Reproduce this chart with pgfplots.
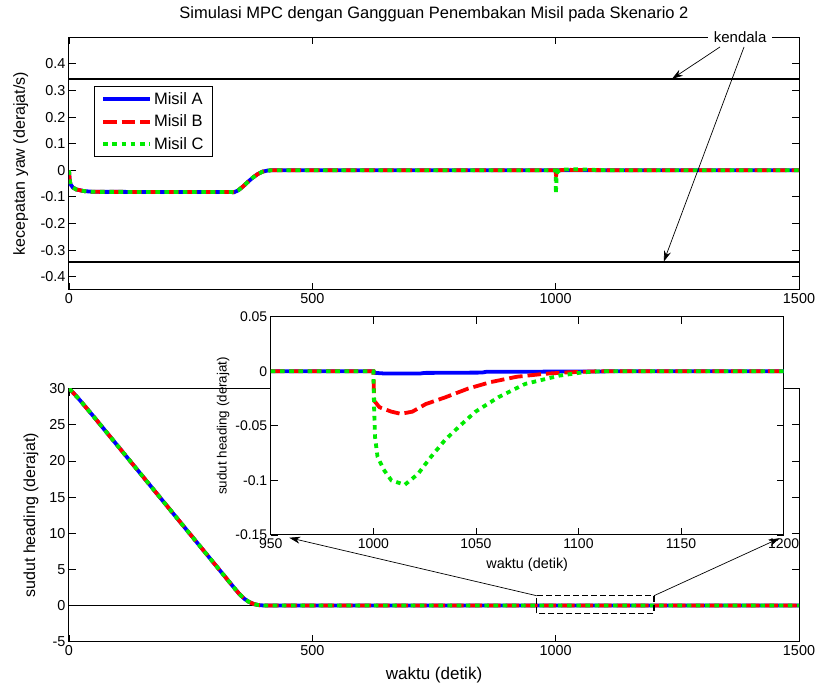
\documentclass[border=0pt]{standalone}
\usepackage{fontspec}
\setmainfont{Liberation Sans}
\usepackage{pgfplots}
\pgfplotsset{compat=1.18}
\usetikzlibrary{arrows.meta}

\definecolor{mblue}{RGB}{0,0,255}
\definecolor{mred}{RGB}{255,0,0}
\definecolor{mgreen}{RGB}{0,235,0}

\pgfplotsset{
  matlab/.style={
    scale only axis, anchor=south west,
    tick align=inside, major tick length=7pt,
    every tick/.style={black, line width=0.8pt},
    axis line style={line width=1pt},
    tick label style={font=\fontsize{14.4}{16}\selectfont},
    /pgf/number format/assume math mode=true,
  },
  misA/.style={mblue, line width=3.8pt},
  misB/.style={mred, line width=3.8pt, dash pattern=on 13.5pt off 5pt},
  misC/.style={mgreen, line width=3.8pt, dash pattern=on 4.6pt off 4.6pt},
  legend image code/.code={\draw[#1] (0pt,0pt) -- (47pt,0pt);},
}

\begin{document}
\begin{tikzpicture}
\path[use as bounding box] (0pt,0pt) rectangle (816pt,684pt);

% ---------------- yaw rate ----------------
\begin{axis}[matlab,
  at={(69pt,394pt)}, width=730pt, height=252.7pt,
  xmin=0, xmax=1500, ymin=-0.45, ymax=0.5,
  xtick={0,500,1000,1500}, xticklabels={0,500,1000,1500},
  ytick={-0.4,-0.3,-0.2,-0.1,0,0.1,0.2,0.3,0.4},
  yticklabels={-0.4,-0.3,-0.2,-0.1,0,0.1,0.2,0.3,0.4},
  ylabel={kecepatan yaw (derajat/s)},
  ylabel style={at={(axis description cs:-0.066,0.5)}, anchor=center, font=\fontsize{16}{18}\selectfont},
  title={Simulasi MPC dengan Gangguan Penembakan Misil pada Skenario 2},
  title style={at={(axis description cs:0.5,1.068)}, anchor=center, font=\fontsize{16.5}{19}\selectfont},
  legend style={at={(axis description cs:0.034,0.807)}, anchor=north west,
    draw=black, line width=0.8pt, font=\fontsize{16.5}{18}\selectfont,
    row sep=5pt, inner xsep=7pt, inner ysep=4pt, cells={anchor=west}},
]
\addplot[misA] coordinates {(0,0) (1,-0.03) (3,-0.052) (8,-0.065) (15,-0.072) (30,-0.078) (50,-0.081) (340,-0.082) (348,-0.075) (358,-0.06) (368,-0.043) (378,-0.027) (388,-0.014) (398,-0.005) (408,-0.001) (415,0) (1000,0) (1000.3,-0.002) (1003,0) (1500,0)};
\addplot[misB] coordinates {(0,0) (1,-0.03) (3,-0.052) (8,-0.065) (15,-0.072) (30,-0.078) (50,-0.081) (340,-0.082) (348,-0.075) (358,-0.06) (368,-0.043) (378,-0.027) (388,-0.014) (398,-0.005) (408,-0.001) (415,0) (1000,0) (1000.3,-0.03) (1001.5,-0.01) (1004,-0.002) (1012,0.001) (1030,0.0015) (1060,0.0012) (1100,0.0003) (1120,0) (1500,0)};
\addplot[misC] coordinates {(0,0) (1,-0.03) (3,-0.052) (8,-0.065) (15,-0.072) (30,-0.078) (50,-0.081) (340,-0.082) (348,-0.075) (358,-0.06) (368,-0.043) (378,-0.027) (388,-0.014) (398,-0.005) (408,-0.001) (415,0) (1000,0) (1000.3,-0.088) (1001.2,-0.06) (1002,-0.02) (1004,-0.005) (1010,0.001) (1020,0.003) (1040,0.0035) (1060,0.003) (1080,0.0015) (1100,0.0005) (1120,0) (1500,0)};
\legend{Misil A, Misil B, Misil C}
% batas kecepatan yaw
\addplot[black, line width=2pt, forget plot] coordinates {(0,0.3438) (1500,0.3438)};
\addplot[black, line width=2pt, forget plot] coordinates {(0,-0.3438) (1500,-0.3438)};
\coordinate (kend) at (axis cs:1379,0.5);
\coordinate (k1) at (axis cs:1239,0.3438);
\coordinate (k2) at (axis cs:1222,-0.3438);
\end{axis}
\node[fill=white, inner xsep=6pt, inner ysep=1pt, font=\fontsize{15}{18}\selectfont] at (kend) {kendala};
\draw[line width=0.7pt, -{Stealth[length=11pt,width=7pt]}] (720pt,637pt) -- (k1);
\draw[line width=0.7pt, -{Stealth[length=11pt,width=7pt]}] (744pt,637pt) -- (k2);

% ---------------- heading ----------------
\begin{axis}[matlab,
  at={(69pt,42.3pt)}, width=730pt, height=253pt,
  xmin=0, xmax=1500, ymin=-5, ymax=30,
  xtick={0,500,1000,1500}, xticklabels={0,500,1000,1500},
  ytick={-5,0,5,10,15,20,25,30}, yticklabels={-5,0,5,10,15,20,25,30},
  xlabel={waktu (detik)},
  xlabel style={at={(axis description cs:0.5,-0.132)}, anchor=center, font=\fontsize{17}{19}\selectfont},
  ylabel={sudut heading (derajat)},
  ylabel style={at={(axis description cs:-0.052,0.5)}, anchor=center, font=\fontsize{16}{18}\selectfont},
]
\addplot[black, line width=1.8pt] coordinates {(0,0) (1500,0)};
\addplot[misA] coordinates {(0,30) (5,29.7) (20,28.6) (50,26.2) (340,2.4) (350,1.6) (360,0.95) (370,0.5) (380,0.2) (390,0.06) (400,0.01) (410,0) (1500,0)};
\addplot[misB] coordinates {(0,30) (5,29.7) (20,28.6) (50,26.2) (340,2.4) (350,1.6) (360,0.95) (370,0.5) (380,0.2) (390,0.06) (400,0.01) (410,0) (1500,0)};
\addplot[misC] coordinates {(0,30) (5,29.7) (20,28.6) (50,26.2) (340,2.4) (350,1.6) (360,0.95) (370,0.5) (380,0.2) (390,0.06) (400,0.01) (410,0) (1500,0)};
\draw[black, line width=1.5pt, dash pattern=on 6pt off 3pt] (axis cs:961,-1.07) rectangle (axis cs:1202,1.36);
\coordinate (r1) at (axis cs:961,1.36);
\coordinate (r2) at (axis cs:1202,1.36);
\end{axis}

% ---------------- detail 950--1200 s ----------------
\begin{axis}[matlab,
  at={(270.8pt,149pt)}, width=512.8pt, height=218.3pt,
  axis background/.style={fill=white},
  xmin=950, xmax=1200, ymin=-0.15, ymax=0.05,
  tick label style={font=\fontsize{14}{16}\selectfont},
  xtick={950,1000,1050,1100,1150,1200}, xticklabels={950,1000,1050,1100,1150,1200},
  ytick={-0.15,-0.1,-0.05,0,0.05}, yticklabels={-0.15,-0.1,-0.05,0,0.05},
  xlabel={waktu (detik)},
  xlabel style={at={(axis description cs:0.5,-0.137)}, anchor=center, font=\fontsize{14.4}{16}\selectfont},
  ylabel={sudut heading (derajat)},
  ylabel style={at={(axis description cs:-0.093,0.5)}, anchor=center, font=\fontsize{13.4}{15}\selectfont},
]
\addplot[misA] coordinates {(950,0) (1000,0) (1001,-0.0015) (1005,-0.002) (1023,-0.002) (1025,-0.0015) (1053,-0.0012) (1055,-0.0005) (1110,-0.0002) (1115,0) (1200,0)};
\addplot[misB] coordinates {(950,0) (1000,0) (1000.4,-0.027) (1003,-0.033) (1008.8,-0.037) (1013.4,-0.039) (1019,-0.037) (1025.6,-0.030) (1034.9,-0.024) (1046,-0.016) (1057,-0.010) (1070,-0.005) (1083,-0.0024) (1094.6,-0.001) (1109.5,0) (1200,0)};
\addplot[misC] coordinates {(950,0) (1000,0) (1000.3,-0.03) (1000.8,-0.06) (1002,-0.078) (1005,-0.09) (1008.8,-0.100) (1015.3,-0.104) (1021.8,-0.094) (1027.4,-0.080) (1034.9,-0.063) (1042.4,-0.0496) (1049.8,-0.037) (1061,-0.0237) (1074,-0.0116) (1090.8,-0.004) (1102,-0.001) (1111,0) (1200,0)};
\coordinate (i1) at (axis cs:959,-0.1525);
\coordinate (i2) at (axis cs:1198,-0.153);
\end{axis}
\draw[line width=0.7pt, -{Stealth[length=11pt,width=7pt]}] (r1) -- (i1);
\draw[line width=0.7pt, -{Stealth[length=11pt,width=7pt]}] (r2) -- (i2);
\end{tikzpicture}
\end{document}
